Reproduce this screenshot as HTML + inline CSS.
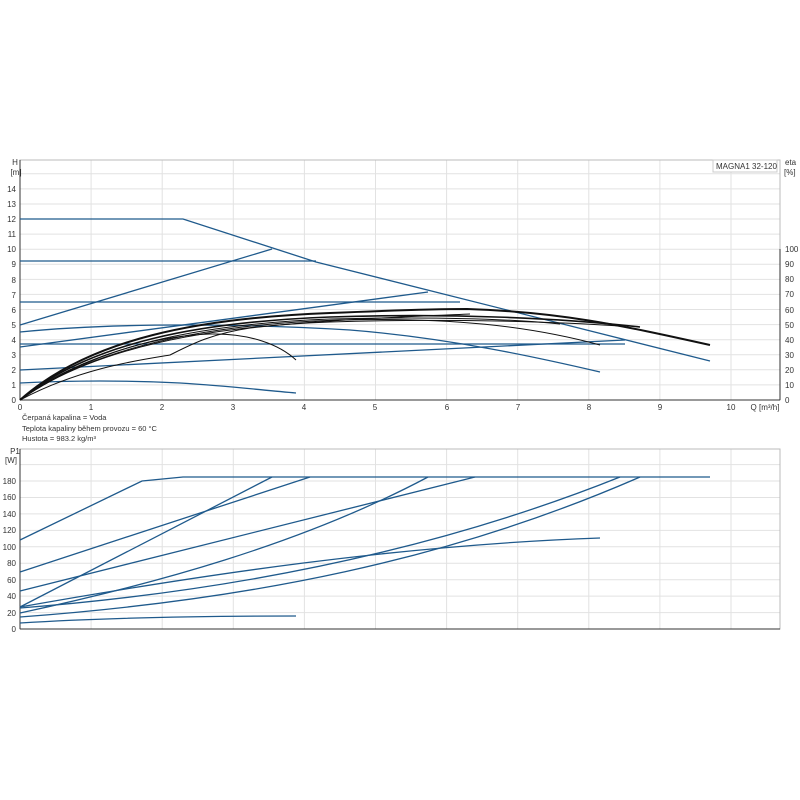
<!DOCTYPE html>
<html><head><meta charset="utf-8"><style>
html,body{margin:0;padding:0;background:#fff;}
svg{display:block;font-family:"Liberation Sans",sans-serif;}
</style></head><body>
<svg width="800" height="800" viewBox="0 0 800 800" xmlns="http://www.w3.org/2000/svg">
<rect width="800" height="800" fill="#fff"/>
<g stroke="#e2e2e2" stroke-width="1">
<line x1="20" y1="384.9" x2="780" y2="384.9"/><line x1="20" y1="369.8" x2="780" y2="369.8"/>
<line x1="20" y1="354.8" x2="780" y2="354.8"/><line x1="20" y1="339.7" x2="780" y2="339.7"/>
<line x1="20" y1="324.6" x2="780" y2="324.6"/><line x1="20" y1="309.5" x2="780" y2="309.5"/>
<line x1="20" y1="294.4" x2="780" y2="294.4"/><line x1="20" y1="279.4" x2="780" y2="279.4"/>
<line x1="20" y1="264.3" x2="780" y2="264.3"/><line x1="20" y1="249.2" x2="780" y2="249.2"/>
<line x1="20" y1="234.1" x2="780" y2="234.1"/><line x1="20" y1="219" x2="780" y2="219"/>
<line x1="20" y1="204" x2="780" y2="204"/><line x1="20" y1="188.9" x2="780" y2="188.9"/>
<line x1="20" y1="173.8" x2="780" y2="173.8"/>
<line x1="91.1" y1="160" x2="91.1" y2="400"/><line x1="162.2" y1="160" x2="162.2" y2="400"/>
<line x1="233.3" y1="160" x2="233.3" y2="400"/><line x1="304.4" y1="160" x2="304.4" y2="400"/>
<line x1="375.5" y1="160" x2="375.5" y2="400"/><line x1="446.6" y1="160" x2="446.6" y2="400"/>
<line x1="517.7" y1="160" x2="517.7" y2="400"/><line x1="588.8" y1="160" x2="588.8" y2="400"/>
<line x1="659.9" y1="160" x2="659.9" y2="400"/><line x1="731" y1="160" x2="731" y2="400"/>
</g>
<rect x="20" y="160" width="760" height="240" fill="none" stroke="#bbb"/>
<line x1="20" y1="160" x2="20" y2="400" stroke="#333"/>
<line x1="20" y1="400" x2="780" y2="400" stroke="#333"/>
<line x1="780" y1="249" x2="780" y2="400" stroke="#333"/>
<g font-size="8" fill="#333" text-anchor="end">
<text x="15" y="165" text-anchor="middle">H</text><text x="16" y="175" text-anchor="middle">[m]</text>
<text x="16" y="403">0</text><text x="16" y="388">1</text><text x="16" y="373">2</text><text x="16" y="358">3</text>
<text x="16" y="343">4</text><text x="16" y="328">5</text><text x="16" y="313">6</text><text x="16" y="298">7</text>
<text x="16" y="283">8</text><text x="16" y="267">9</text><text x="16" y="252">10</text><text x="16" y="237">11</text>
<text x="16" y="222">12</text><text x="16" y="207">13</text><text x="16" y="192">14</text>
</g>
<g font-size="8" fill="#333">
<text x="785" y="165">eta</text><text x="784" y="175">[%]</text>
<text x="785" y="403">0</text><text x="785" y="388">10</text><text x="785" y="373">20</text><text x="785" y="358">30</text>
<text x="785" y="343">40</text><text x="785" y="328">50</text><text x="785" y="313">60</text><text x="785" y="297">70</text>
<text x="785" y="282">80</text><text x="785" y="267">90</text><text x="785" y="252">100</text>
</g>
<g font-size="8" fill="#333" text-anchor="middle">
<text x="20" y="410">0</text><text x="91" y="410">1</text><text x="162" y="410">2</text><text x="233" y="410">3</text>
<text x="304" y="410">4</text><text x="375" y="410">5</text><text x="447" y="410">6</text><text x="518" y="410">7</text>
<text x="589" y="410">8</text><text x="660" y="410">9</text><text x="731" y="410">10</text>
<text x="765" y="410">Q [m³/h]</text>
</g>
<rect x="713" y="160" width="64" height="12" fill="#fff" stroke="#ccc"/>
<text x="716" y="169" font-size="8" fill="#333">MAGNA1 32-120</text>
<g font-size="7.5" fill="#333">
<text x="22" y="420">Čerpaná kapalina = Voda</text>
<text x="22" y="431">Teplota kapaliny během provozu = 60 °C</text>
<text x="22" y="441">Hustota = 983.2 kg/m³</text>
</g>
<g fill="none" stroke="#1f5a8c" stroke-width="1.3">
<polyline points="20,219 183,219 316,262 710,361"/>
<polyline points="20,261 316,261"/>
<polyline points="20,302 460,302"/>
<polyline points="20,344 625,344"/>
<polyline points="20,325 272,249"/>
<polyline points="20,347 428,292"/>
<polyline points="20,370 625,340"/>
<path d="M20,332 C120,322 250,324 350,330 C450,338 540,358 600,372"/>
<path d="M20,383 C80,380 140,381 180,383 C230,386 260,390 296,393"/>
</g>
<g fill="none" stroke="#111" stroke-width="1">
<path d="M20,400 C90,338 200,318 330,313 C400,310 440,309 467,309 C560,312 620,325 710,345" stroke-width="2"/>
<path d="M20,400 C90,342 200,322 330,317 C450,313 560,318 640,327" stroke-width="1.6"/>
<path d="M20,400 C95,346 210,324 340,320 C450,317 530,326 600,345"/>
<path d="M20,400 C80,358 150,336 210,334 C250,333 280,345 296,360"/>
<path d="M20,400 C80,368 140,360 170,355 C190,345 210,334 250,328 C320,320 400,317 470,314"/>
<path d="M20,400 C90,350 200,327 330,322 C450,318 560,322 620,326"/>
<path d="M20,400 C90,346 200,324 330,319 C450,316 520,320 560,324"/>
</g>

<g stroke="#e2e2e2" stroke-width="1">
<line x1="20" y1="612.6" x2="780" y2="612.6"/><line x1="20" y1="596.1" x2="780" y2="596.1"/>
<line x1="20" y1="579.7" x2="780" y2="579.7"/><line x1="20" y1="563.2" x2="780" y2="563.2"/>
<line x1="20" y1="546.8" x2="780" y2="546.8"/><line x1="20" y1="530.4" x2="780" y2="530.4"/>
<line x1="20" y1="513.9" x2="780" y2="513.9"/><line x1="20" y1="497.5" x2="780" y2="497.5"/>
<line x1="20" y1="481" x2="780" y2="481"/><line x1="20" y1="464.6" x2="780" y2="464.6"/>
<line x1="91.1" y1="449" x2="91.1" y2="629"/><line x1="162.2" y1="449" x2="162.2" y2="629"/>
<line x1="233.3" y1="449" x2="233.3" y2="629"/><line x1="304.4" y1="449" x2="304.4" y2="629"/>
<line x1="375.5" y1="449" x2="375.5" y2="629"/><line x1="446.6" y1="449" x2="446.6" y2="629"/>
<line x1="517.7" y1="449" x2="517.7" y2="629"/><line x1="588.8" y1="449" x2="588.8" y2="629"/>
<line x1="659.9" y1="449" x2="659.9" y2="629"/><line x1="731" y1="449" x2="731" y2="629"/>
</g>
<rect x="20" y="449" width="760" height="180" fill="none" stroke="#bbb"/>
<line x1="20" y1="449" x2="20" y2="629" stroke="#333"/>
<line x1="20" y1="629" x2="780" y2="629" stroke="#333"/>
<g font-size="8" fill="#333" text-anchor="end">
<text x="15" y="454" text-anchor="middle">P1</text><text x="11" y="463" text-anchor="middle">[W]</text>
<text x="16" y="632">0</text><text x="16" y="616">20</text><text x="16" y="599">40</text><text x="16" y="583">60</text>
<text x="16" y="566">80</text><text x="16" y="550">100</text><text x="16" y="533">120</text><text x="16" y="517">140</text>
<text x="16" y="500">160</text><text x="16" y="484">180</text>
</g>
<g fill="none" stroke="#1f5a8c" stroke-width="1.3">
<polyline points="20,540 142,481 183,477 710,477"/>
<polyline points="20,572 310,477"/>
<polyline points="20,607 272,477"/>
<polyline points="20,591 475,477"/>
<path d="M20,613 C150,585 300,545 428,477"/>
<path d="M20,607 C200,575 400,545 600,538"/>
<path d="M20,608 C250,590 450,545 620,477"/>
<path d="M20,617 C250,600 450,560 640,477"/>
<path d="M20,623 C100,618 200,616 296,616"/>
</g>
</svg>
</body></html>
